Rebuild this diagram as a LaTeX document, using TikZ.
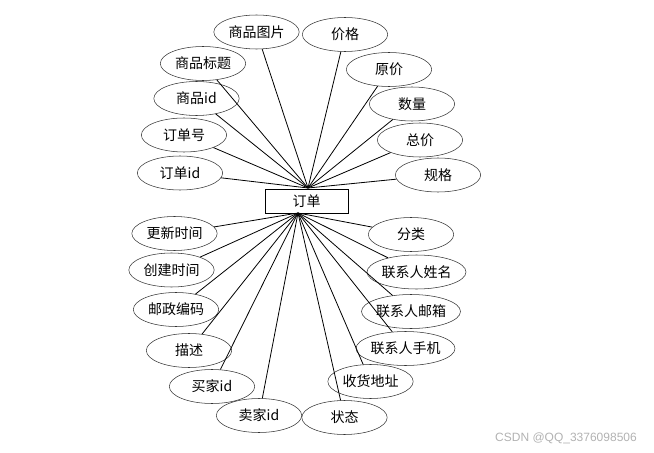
\documentclass[tikz,border=0pt]{standalone}
\usepackage{fontspec}
\setmainfont{Liberation Sans}
\newfontfamily\cjk{Noto Sans CJK SC}
\usetikzlibrary{shapes.geometric}
\begin{document}
\begin{tikzpicture}[
        x=0.75pt, y=-0.75pt,
        entity/.style={rectangle, minimum width=62pt, minimum height=18pt, inner sep=0pt, draw=black, font=\cjk\fontsize{10.5}{12}\selectfont},
        attr/.style={ellipse, minimum width=64pt, minimum height=25.5pt, inner sep=0pt, draw=black!80, font=\cjk\fontsize{10.5}{12}\selectfont},
        link/.style={draw=black, line width=0.6pt}
    ]
        \useasboundingbox (0,0) rectangle (654,453);

        % Entity
        \node (order) [entity] at (306.5,201) {订单};
        \coordinate (hubup) at (308,188);
        \coordinate (hubdown) at (298,213);

        % Upper attributes
        \node (pic) [attr] at (256.5,32) {商品图片};
        \node (price) [attr] at (345,34.5) {价格};
        \node (title) [attr] at (203,63.5) {商品标题};
        \node (oprice) [attr] at (389,69.5) {原价};
        \node (gid) [attr] at (196.5,98.5) {商品id};
        \node (amount) [attr] at (412,104) {数量};
        \node (ono) [attr] at (184,135) {订单号};
        \node (total) [attr] at (420,140) {总价};
        \node (oid) [attr] at (180,173) {订单id};
        \node (spec) [attr] at (438,175) {规格};

        % Lower attributes
        \node (update) [attr] at (174.5,233.5) {更新时间};
        \node (category) [attr] at (411,234.5) {分类};
        \node (create) [attr] at (171.5,270) {创建时间};
        \node (cname) [attr] at (416.5,272) {联系人姓名};
        \node (zip) [attr] at (176,309.5) {邮政编码};
        \node (cmail) [attr] at (411,311.5) {联系人邮箱};
        \node (desc) [attr] at (189,350.5) {描述};
        \node (cphone) [attr] at (405.5,348.5) {联系人手机};
        \node (buyer) [attr] at (212,386.5) {买家id};
        \node (addr) [attr] at (370.5,381.5) {收货地址};
        \node (seller) [attr] at (259,415.5) {卖家id};
        \node (state) [attr] at (344.5,417.5) {状态};

        % Connections
        \foreach \n in {pic, price, title, oprice, gid, amount, ono, total, oid, spec}
            \draw[link] (hubup) -- (\n);
        \foreach \n in {update, category, create, cname, zip, cmail, desc, cphone, buyer, addr, seller, state}
            \draw[link] (hubdown) -- (\n);

        % Watermark
        \node (mark) [font=\small, text=black!30] at (566,438) {CSDN @QQ\_3376098506};
    \end{tikzpicture}
\end{document}
